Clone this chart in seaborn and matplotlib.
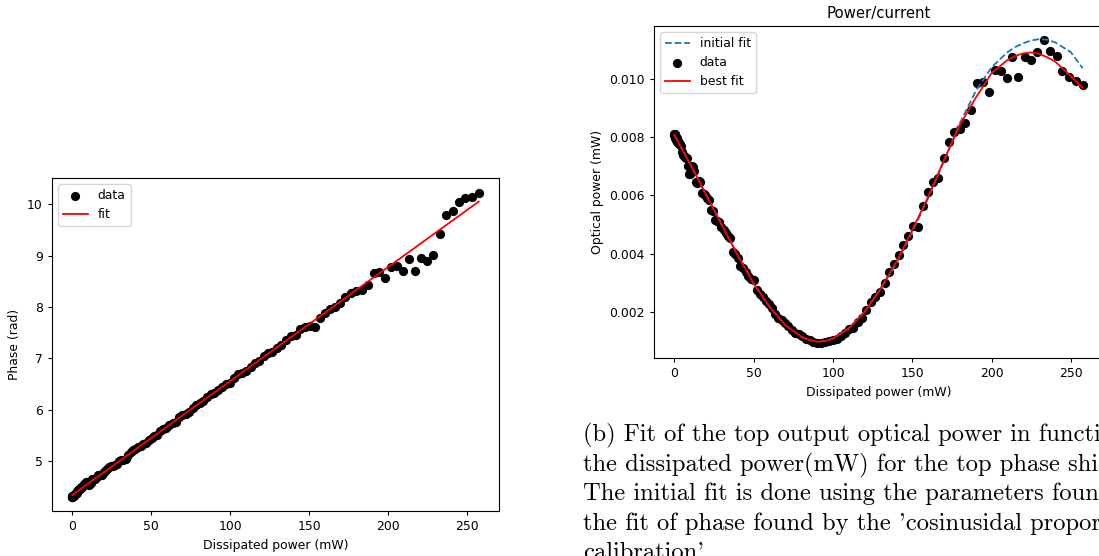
import matplotlib
matplotlib.use("Agg")
import matplotlib.pyplot as plt
import seaborn as sns

# dissipated power of each measurement (mW), shared by both panels
power_mw = [
    0.0, 0.0, 0.1, 0.1, 0.3, 0.4, 0.6, 0.8, 1.0, 1.3,
    1.6, 1.9, 2.3, 2.7, 3.1, 3.6, 4.1, 4.6, 5.2, 5.8,
    6.4, 7.1, 7.7, 8.5, 9.2, 10.0, 10.8, 11.7, 12.5, 13.5,
    14.4, 15.4, 16.4, 17.4, 18.5, 19.6, 20.7, 21.9, 23.1, 24.3,
    25.6, 26.9, 28.2, 29.6, 31.0, 32.4, 33.9, 35.3, 36.9, 38.4,
    40.0, 41.6, 43.3, 44.9, 46.7, 48.4, 50.2, 52.0, 53.8, 55.7,
    57.6, 59.5, 61.5, 63.5, 65.5, 67.6, 69.7, 71.8, 74.0, 76.2,
    78.4, 80.6, 82.9, 85.3, 87.6, 90.0, 92.4, 94.9, 97.3, 99.9,
    102.4, 105.0, 107.6, 110.2, 112.9, 115.6, 118.3, 121.1, 123.9, 126.7,
    129.6, 132.5, 135.4, 138.4, 141.4, 144.4, 147.5, 150.5, 153.7, 156.8,
    160.0, 163.2, 166.5, 169.7, 173.0, 176.4, 179.8, 183.2, 187.3, 190.9,
    194.5, 198.3, 201.9, 205.7, 209.5, 213.1, 216.9, 220.9, 224.7, 228.5,
    233.1, 236.9, 241.1, 244.7, 248.9, 253.2, 257.4,
]

phase_rad = [
    4.30, 4.31, 4.31, 4.32, 4.32, 4.33, 4.33, 4.33, 4.34, 4.35,
    4.37, 4.36, 4.39, 4.39, 4.42, 4.44, 4.46, 4.46, 4.49, 4.47,
    4.50, 4.54, 4.56, 4.60, 4.60, 4.58, 4.54, 4.57, 4.66, 4.66,
    4.66, 4.70, 4.73, 4.73, 4.73, 4.76, 4.80, 4.85, 4.88, 4.90,
    4.90, 4.92, 4.94, 5.00, 5.02, 5.03, 5.05, 5.12, 5.18, 5.21,
    5.24, 5.28, 5.29, 5.34, 5.36, 5.42, 5.45, 5.48, 5.51, 5.58,
    5.62, 5.65, 5.71, 5.75, 5.77, 5.86, 5.90, 5.92, 5.96, 6.03,
    6.09, 6.13, 6.17, 6.25, 6.31, 6.33, 6.38, 6.45, 6.50, 6.53,
    6.62, 6.69, 6.72, 6.76, 6.84, 6.91, 6.95, 7.05, 7.10, 7.13,
    7.21, 7.26, 7.35, 7.43, 7.46, 7.57, 7.62, 7.63, 7.62, 7.79,
    7.89, 7.96, 8.00, 8.08, 8.20, 8.27, 8.32, 8.34, 8.43, 8.66,
    8.68, 8.57, 8.78, 8.79, 8.70, 8.93, 8.71, 8.95, 8.90, 9.02,
    9.42, 9.79, 9.87, 10.05, 10.12, 10.15, 10.22,
]

optical_mw = [
    0.00812, 0.00808, 0.00805, 0.00810, 0.00800, 0.00806, 0.00798, 0.00802, 0.00795, 0.00790,
    0.00797, 0.00785, 0.00788, 0.00776, 0.00780, 0.00775, 0.00770, 0.00750, 0.00740, 0.00735,
    0.00733, 0.00730, 0.00728, 0.00700, 0.00672, 0.00675, 0.00700, 0.00698, 0.00685, 0.00645,
    0.00643, 0.00648, 0.00645, 0.00608, 0.00605, 0.00600, 0.00592, 0.00585, 0.00550, 0.00545,
    0.00515, 0.00512, 0.00510, 0.00490, 0.00480, 0.00470, 0.00462, 0.00455, 0.00405, 0.00400,
    0.00385, 0.00357, 0.00350, 0.00338, 0.00322, 0.00312, 0.00310, 0.00275, 0.00262, 0.00250,
    0.00238, 0.00225, 0.00212, 0.00192, 0.00180, 0.00170, 0.00162, 0.00150, 0.00136, 0.00128,
    0.00122, 0.00118, 0.00108, 0.00102, 0.00097, 0.00094, 0.00092, 0.00095, 0.00098, 0.00102,
    0.00108, 0.00115, 0.00128, 0.00140, 0.00145, 0.00165, 0.00180, 0.00205, 0.00235, 0.00250,
    0.00268, 0.00300, 0.00335, 0.00365, 0.00395, 0.00430, 0.00460, 0.00494, 0.00492, 0.00565,
    0.00612, 0.00647, 0.00659, 0.00728, 0.00784, 0.00819, 0.00827, 0.00850, 0.00893, 0.00985,
    0.00991, 0.00954, 0.01031, 0.01029, 0.01002, 0.01075, 0.01006, 0.01075, 0.01065, 0.01094,
    0.01134, 0.01097, 0.01079, 0.01029, 0.01008, 0.00994, 0.00979,
]

# linear phase fit (two end points)
phase_fit_x = [0.0, 257.4]
phase_fit_y = [4.34, 10.05]

# cosine fits
curve_x = [0, 10, 20, 30, 40, 50, 60, 70, 80, 85, 90, 95, 100, 110, 120, 130, 140,
           150, 160, 170, 180, 190, 200, 210, 215, 220, 225, 230, 235, 240, 250, 257.4]
best_fit = [0.00807, 0.00707, 0.00602, 0.00497, 0.00393, 0.00297, 0.00217, 0.00154,
            0.00114, 0.00103, 0.00097, 0.00099, 0.00108, 0.00143, 0.00200, 0.00280,
            0.00372, 0.00481, 0.00595, 0.00721, 0.00842, 0.00935, 0.01020, 0.01065,
            0.01079, 0.01088, 0.01091, 0.01086, 0.01075, 0.01060, 0.01010, 0.00970]
initial_fit = [0.00807, 0.00707, 0.00602, 0.00497, 0.00393, 0.00297, 0.00217, 0.00154,
               0.00114, 0.00103, 0.00097, 0.00099, 0.00108, 0.00143, 0.00200, 0.00278,
               0.00366, 0.00475, 0.00590, 0.00718, 0.00848, 0.00958, 0.01040, 0.01092,
               0.01110, 0.01123, 0.01132, 0.01137, 0.01135, 0.01126, 0.01092, 0.01037]

caption_lines = [
    "(b) Fit of the top output optical power in function of",
    "the dissipated power(mW) for the top phase shifter.",
    "The initial fit is done using the parameters found in",
    "the fit of phase found by the 'cosinusidal proportional",
    "calibration'",
]

fs = 8.9
plt.rcParams.update({
    "font.size": fs,
    "axes.labelsize": fs,
    "xtick.labelsize": fs,
    "ytick.labelsize": fs,
    "legend.fontsize": fs,
    "axes.titlesize": 10.7,
    "xtick.major.size": 3.2,
    "ytick.major.size": 3.2,
})

W, H = 1099, 556
fig = plt.figure(figsize=(W / 100, H / 100), dpi=100)
ax1 = fig.add_axes([52 / W, (H - 511) / H, 447 / W, 333 / H])
ax2 = fig.add_axes([654 / W, (H - 358) / H, 449 / W, 332 / H])

# left: phase vs dissipated power
sns.scatterplot(x=power_mw, y=phase_rad, color="black", s=44, linewidth=0,
                label="data", ax=ax1)
sns.lineplot(x=phase_fit_x, y=phase_fit_y, color="red", linewidth=1.3,
             label="fit", ax=ax1)
ax1.set_xlabel("Dissipated power (mW)")
ax1.set_ylabel("Phase (rad)")
ax1.set_ylim(4.03, 10.51)
ax1.legend(loc="upper left")

# right: optical power vs dissipated power
sns.lineplot(x=curve_x, y=initial_fit, color="#1f77b4", linestyle="--",
             linewidth=1.3, label="initial fit", ax=ax2)
sns.scatterplot(x=power_mw, y=optical_mw, color="black", s=44, linewidth=0,
                label="data", ax=ax2)
sns.lineplot(x=curve_x, y=best_fit, color="red", linewidth=1.3,
             label="best fit", ax=ax2)
ax2.set_xlabel("Dissipated power (mW)")
ax2.set_ylabel("Optical power (mW)")
ax2.set_title("Power/current")
ax2.set_ylim(0.00041, 0.01182)
ax2.set_xticks([0, 50, 100, 150, 200, 250])
ax2.legend(loc="upper left")

# caption under the right panel (runs past the right edge, as in the source)
for i, line in enumerate(caption_lines):
    y = 441.7 + i * 29.3
    fig.text(583 / W, 1 - y / H, line, fontfamily="cmr10", fontsize=17.7,
             va="baseline", ha="left")

fig.savefig("out.png", dpi=100)
